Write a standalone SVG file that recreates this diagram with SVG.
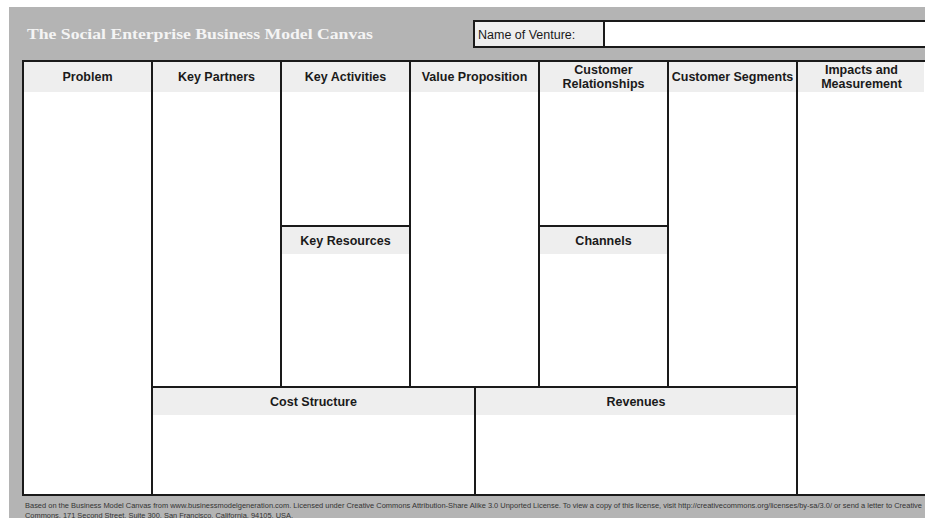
<svg xmlns="http://www.w3.org/2000/svg" width="925" height="518" viewBox="0 0 925 518">
  <style>
    .cell { fill: #ffffff; stroke: #1a1a1a; stroke-width: 2; }
    .band { fill: #eeeeee; }
    .hdr { font-family: "Liberation Sans", Arial, sans-serif; font-size: 12.5px; font-weight: bold; fill: #1a1a1a; text-anchor: middle; }
    .grid { stroke: #1a1a1a; stroke-width: 2; fill: none; }
    .foot { font-family: "Liberation Sans", Arial, sans-serif; font-size: 6.6px; fill: #333333; }
  </style>

  <!-- page background -->
  <rect x="0" y="0" width="925" height="518" fill="#ffffff"/>
  <rect x="9" y="7" width="916" height="511" fill="#b4b4b4"/>

  <!-- title -->
  <text id="title" x="27" y="39" font-family="'Liberation Serif', 'Times New Roman', serif" font-size="15.5" font-weight="bold" fill="#f4f4f4" textLength="346" lengthAdjust="spacingAndGlyphs">The Social Enterprise Business Model Canvas</text>

  <!-- venture name field -->
  <g id="venture-name">
    <rect x="474" y="21" width="460" height="26" class="cell"/>
    <rect x="475" y="22" width="129" height="24" fill="#eeeeee"/>
    <line x1="604" y1="21" x2="604" y2="47" class="grid"/>
    <text x="478" y="38.5" font-family="'Liberation Sans', Arial, sans-serif" font-size="12.5" fill="#1a1a1a">Name of Venture:</text>
  </g>

  <!-- canvas frame -->
  <rect x="23" y="61" width="920" height="434" class="cell"/>

  <!-- header bands -->
  <rect x="24" y="62" width="900" height="30" class="band"/>
  <rect x="282" y="227" width="127" height="27" class="band"/>
  <rect x="540" y="227" width="127" height="27" class="band"/>
  <rect x="153" y="388" width="643" height="27" class="band"/>

  <!-- connectors: grid dividers -->
  <g id="dividers" class="grid">
    <line x1="152" y1="61" x2="152" y2="495"/>
    <line x1="281" y1="61" x2="281" y2="387"/>
    <line x1="410" y1="61" x2="410" y2="387"/>
    <line x1="539" y1="61" x2="539" y2="387"/>
    <line x1="668" y1="61" x2="668" y2="387"/>
    <line x1="797" y1="61" x2="797" y2="495"/>
    <line x1="281" y1="226" x2="410" y2="226"/>
    <line x1="539" y1="226" x2="668" y2="226"/>
    <line x1="152" y1="387" x2="797" y2="387"/>
    <line x1="475" y1="387" x2="475" y2="495"/>
  </g>

  <!-- blocks -->
  <g id="problem"><text class="hdr" x="87.5" y="80.5">Problem</text></g>
  <g id="key-partners"><text class="hdr" x="216.5" y="80.5">Key Partners</text></g>
  <g id="key-activities"><text class="hdr" x="345.5" y="80.5">Key Activities</text></g>
  <g id="key-resources"><text class="hdr" x="345.5" y="244.5">Key Resources</text></g>
  <g id="value-proposition"><text class="hdr" x="474.5" y="80.5">Value Proposition</text></g>
  <g id="customer-relationships">
    <text class="hdr" x="603.5" y="73.5">Customer</text>
    <text class="hdr" x="603.5" y="88">Relationships</text>
  </g>
  <g id="channels"><text class="hdr" x="603.5" y="244.5">Channels</text></g>
  <g id="customer-segments"><text class="hdr" x="732.5" y="80.5">Customer Segments</text></g>
  <g id="impacts">
    <text class="hdr" x="861.5" y="73.5">Impacts and</text>
    <text class="hdr" x="861.5" y="88">Measurement</text>
  </g>
  <g id="cost-structure"><text class="hdr" x="313.5" y="405.5">Cost Structure</text></g>
  <g id="revenues"><text class="hdr" x="636" y="405.5">Revenues</text></g>

  <!-- licence note -->
  <text class="foot" x="25" y="508" textLength="897" lengthAdjust="spacingAndGlyphs">Based on the Business Model Canvas from www.businessmodelgeneration.com. Licensed under Creative Commons Attribution-Share Alike 3.0 Unported License.  To view a copy of this license, visit http://creativecommons.org/licenses/by-sa/3.0/ or send a letter to Creative</text>
  <text class="foot" x="25" y="518" textLength="268" lengthAdjust="spacingAndGlyphs">Commons, 171 Second Street, Suite 300, San Francisco, California, 94105, USA.</text>
</svg>
